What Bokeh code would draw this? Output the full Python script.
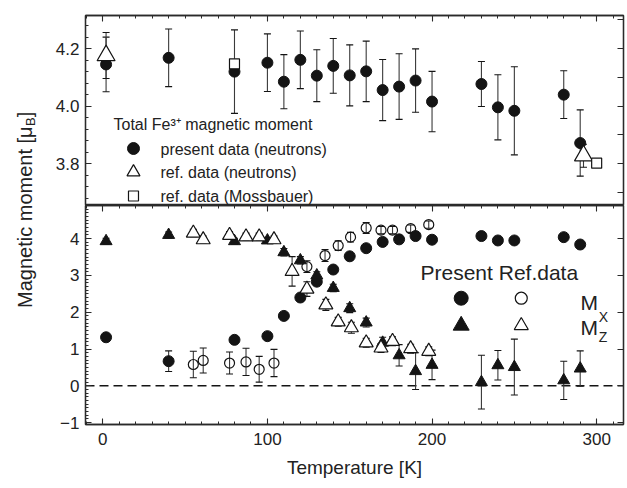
import numpy as np
from bokeh.plotting import figure
from bokeh.models import (Range1d, LinearAxis, SingleIntervalTicker, Whisker, TeeHead,
                          ColumnDataSource, Span, Label, PrintfTickFormatter)
from bokeh.layouts import row, column
from bokeh.embed import file_html
from bokeh.resources import INLINE

# ---------------- data ----------------
# Top panel: total Fe3+ magnetic moment
temp_total = [2, 40, 80, 100, 110, 120, 130, 140, 150, 160, 170, 180, 190, 200, 230, 240, 250, 280, 290]
moment_total = [4.145, 4.168, 4.12, 4.151, 4.085, 4.161, 4.106, 4.14, 4.107, 4.121, 4.056, 4.068,
                4.089, 4.016, 4.077, 3.996, 3.984, 4.04, 3.872]
err_total = [0.095, 0.1, 0.145, 0.1, 0.094, 0.1, 0.09, 0.095, 0.106, 0.105, 0.106, 0.114, 0.11,
             0.105, 0.078, 0.113, 0.153, 0.083, 0.115]
temp_ref_neut = [2, 292]
moment_ref_neut = [4.176, 3.828]
err_ref_neut = [0.08, 0.04]
temp_ref_moss = [80, 300]
moment_ref_moss = [4.147, 3.802]

# Bottom panel: components
temp_present = [2, 40, 80, 100, 110, 120, 130, 140, 150, 160, 170, 180, 190, 200, 230, 240, 250, 280, 290]
mx_present = [1.32, 0.67, 1.25, 1.35, 1.90, 2.40, 2.83, 3.16, 3.52, 3.74, 3.91, 3.98, 4.07, 3.97,
              4.07, 3.95, 3.95, 4.04, 3.84]
mx_present_err = [0.07, 0.28, 0.07, 0.07, 0.07, 0.07, 0.07, 0.07, 0.07, 0.07, 0.07, 0.07, 0.07, 0.07,
                  0.07, 0.07, 0.07, 0.07, 0.07]
mz_present = [3.93, 4.10, 3.93, 3.95, 3.63, 3.41, 3.00, 2.66, 2.11, 1.72, 1.17, 0.83, 0.40, 0.57,
              0.10, 0.56, 0.51, 0.15, 0.47]
mz_present_err = [0.08, 0.08, 0.08, 0.08, 0.1, 0.1, 0.1, 0.1, 0.12, 0.12, 0.15, 0.29, 0.5, 0.4,
                  0.73, 0.4, 0.76, 0.52, 0.48]

temp_ref_x = [55, 61, 77, 87, 95, 104, 124, 135, 143, 150.5, 160, 169, 176, 187, 198]
mx_ref = [0.58, 0.69, 0.62, 0.65, 0.45, 0.62, 3.24, 3.54, 3.81, 4.04, 4.29, 4.23, 4.23, 4.27, 4.38]
mx_ref_err = [0.36, 0.34, 0.30, 0.37, 0.35, 0.37, 0.16, 0.16, 0.13, 0.13, 0.15, 0.1, 0.1, 0.1, 0.1]
temp_ref_z = [55, 61, 77, 87, 95, 104, 115, 124, 135.5, 143, 151, 160, 169, 176, 187, 198]
mz_ref = [4.15, 3.97, 4.09, 4.05, 4.05, 3.97, 3.11, 2.63, 2.20, 1.74, 1.58, 1.17, 1.03, 1.21, 1.01, 0.94]
mz_ref_err = [0.1, 0.1, 0.1, 0.1, 0.1, 0.1, 0.4, 0.2, 0.15, 0.12, 0.15, 0.12, 0.12, 0.12, 0.12, 0.12]

x_ticks_interval = 100
top_y_labels_interval = 0.2
bottom_y_labels_interval = 1

# ---------------- style ----------------
FONT = "Liberation Sans"
INK = "#141414"
AX = "#2a2a2a"
TXT = "#222222"

X_START, X_END = -10.5, 316.3
TOP_Y = (3.655, 4.315)
BOT_Y = (-1.05, 4.9)
FRAME_W = 538
YLAB_W = 40
LEFT_B = 45
TOTAL_H = 486


def style_axis(ax, labels=True):
    ax.axis_line_color = AX
    ax.axis_line_width = 1.3
    ax.major_tick_line_color = AX
    ax.minor_tick_line_color = AX
    ax.major_tick_line_width = 1.1
    ax.minor_tick_line_width = 1
    ax.major_tick_in = 6
    ax.major_tick_out = 0
    ax.minor_tick_in = 3
    ax.minor_tick_out = 0
    ax.major_label_text_font = FONT
    ax.major_label_text_font_size = "17px"
    ax.major_label_text_color = TXT
    ax.major_label_standoff = 6
    if not labels:
        ax.major_label_text_color = None
        ax.major_label_text_font_size = "0px"
        ax.major_label_standoff = 0


def base_fig(frame_h, y_rng, top_b, bottom_b):
    p = figure(frame_width=FRAME_W, frame_height=frame_h, x_range=x_rng, y_range=Range1d(*y_rng),
               output_backend="svg", toolbar_location=None, x_axis_location=None,
               y_axis_location=None, min_border_left=LEFT_B, min_border_right=2,
               min_border_top=top_b, min_border_bottom=bottom_b)
    p.grid.visible = False
    p.outline_line_color = AX
    p.outline_line_width = 1.3
    p.background_fill_color = "white"
    p.border_fill_color = "white"
    return p


def whiskers(p, xs, ys, errs, **kw):
    src = ColumnDataSource(dict(x=xs, lo=[y - e for y, e in zip(ys, errs)],
                                hi=[y + e for y, e in zip(ys, errs)]))
    w = Whisker(source=src, base="x", upper="hi", lower="lo", line_color="#3a3a3a", line_width=1.1,
                upper_head=TeeHead(size=7, line_color=INK, line_width=1.1),
                lower_head=TeeHead(size=7, line_color=INK, line_width=1.1), **kw)
    p.add_layout(w)


x_rng = Range1d(X_START, X_END)

# ---------- top panel ----------
top = base_fig(190, TOP_Y, 15, 0)
ax = LinearAxis(ticker=SingleIntervalTicker(interval=top_y_labels_interval, num_minor_ticks=5),
                formatter=PrintfTickFormatter(format="%.1f"))
style_axis(ax)
top.add_layout(ax, "left")
ax = LinearAxis(ticker=SingleIntervalTicker(interval=0.1, num_minor_ticks=0))
style_axis(ax, labels=False)
top.add_layout(ax, "right")
ax = LinearAxis(ticker=SingleIntervalTicker(interval=x_ticks_interval, num_minor_ticks=10))
style_axis(ax, labels=False)
top.add_layout(ax, "above")

whiskers(top, temp_total, moment_total, err_total)
whiskers(top, temp_ref_neut, moment_ref_neut, err_ref_neut)
top.scatter(temp_total, moment_total, marker="circle", size=11, fill_color=INK, line_color=INK)
top.scatter(temp_ref_neut, moment_ref_neut, marker="triangle", size=18, fill_color="white",
            line_color=INK, line_width=1.2)
top.scatter(temp_ref_moss, moment_ref_moss, marker="square", size=10, fill_color="white",
            line_color=INK, line_width=1.2)

# ---------- bottom panel ----------
bot = base_fig(219, BOT_Y, 0, TOTAL_H - 205 - 219)
ax = LinearAxis(ticker=SingleIntervalTicker(interval=bottom_y_labels_interval, num_minor_ticks=10))
style_axis(ax)
bot.add_layout(ax, "left")
ax = LinearAxis(ticker=SingleIntervalTicker(interval=1, num_minor_ticks=0))
style_axis(ax, labels=False)
bot.add_layout(ax, "right")
ax = LinearAxis(ticker=SingleIntervalTicker(interval=x_ticks_interval, num_minor_ticks=10))
style_axis(ax, labels=False)
bot.add_layout(ax, "above")
ax = LinearAxis(ticker=SingleIntervalTicker(interval=x_ticks_interval, num_minor_ticks=10),
                axis_label="Temperature [K]")
style_axis(ax)
ax.major_label_standoff = 8
ax.axis_label_text_font = FONT
ax.axis_label_text_font_size = "19px"
ax.axis_label_text_font_style = "normal"
ax.axis_label_text_color = TXT
ax.axis_label_standoff = 9
bot.add_layout(ax, "below")

bot.add_layout(Span(location=0, dimension="width", line_color=INK, line_width=1.5,
                    line_dash="9 5", level="underlay"))

whiskers(bot, temp_present, mx_present, mx_present_err)
whiskers(bot, temp_present, mz_present, mz_present_err)
whiskers(bot, temp_ref_x, mx_ref, mx_ref_err)
whiskers(bot, temp_ref_z, mz_ref, mz_ref_err)
bot.scatter(temp_present, mx_present, marker="circle", size=11, fill_color=INK, line_color=INK)
bot.scatter(temp_present, mz_present, marker="triangle", size=12, fill_color=INK, line_color=INK)
bot.scatter(temp_ref_x, mx_ref, marker="circle", size=10, fill_alpha=0, line_color=INK,
            line_width=1.2)
bot.scatter(temp_ref_z, mz_ref, marker="triangle", size=14, fill_color="white", line_color=INK,
            line_width=1.2)

# ---------- legends (layout positions, not data) ----------
def lab(p, x, y, text, size, **kw):
    p.add_layout(Label(x=x, y=y, text=text, text_font=FONT, text_font_size=size,
                       text_color=TXT, text_baseline="middle", **kw))

lab(top, 6.5, 3.936, "Total Fe³⁺ magnetic moment", "16px")
top.scatter([18.65], [3.853], marker="circle", size=12, fill_color=INK, line_color=INK)
top.scatter([18.65], [3.771], marker="triangle", size=13, fill_color="white", line_color=INK,
            line_width=1.2)
top.scatter([18.65], [3.688], marker="square", size=10, fill_color="white", line_color=INK,
            line_width=1.2)
lab(top, 35.05, 3.848, "present data (neutrons)", "16px")
lab(top, 35.05, 3.768, "ref. data (neutrons)", "16px")
lab(top, 35.05, 3.688, "ref. data (Mossbauer)", "16px")

lab(bot, 193, 3.093, "Present Ref.data", "21px")
bot.scatter([217.7], [2.381], marker="circle", size=14, fill_color=INK, line_color=INK)
bot.scatter([254.2], [2.381], marker="circle", size=12, fill_alpha=0, line_color=INK, line_width=1.2)
bot.scatter([217.7], [1.639], marker="triangle", size=16, fill_color=INK, line_color=INK)
bot.scatter([254.2], [1.639], marker="triangle", size=14, fill_color="white", line_color=INK,
            line_width=1.2)
lab(bot, 290.2, 2.264, "M", "21px")
lab(bot, 301.2, 1.865, "X", "14px")
lab(bot, 290.2, 1.593, "M", "21px")
lab(bot, 301.2, 1.321, "Z", "14px")

# ---------- shared y-axis title ----------
ylab = figure(width=YLAB_W, height=TOTAL_H, x_range=Range1d(0, YLAB_W), y_range=Range1d(0, TOTAL_H),
              output_backend="svg", toolbar_location=None, x_axis_location=None,
              y_axis_location=None, min_border=0, outline_line_color=None)
ylab.grid.visible = False
ylab.add_layout(Label(x=24, y=360.1, text="Magnetic moment [μ", angle=np.pi / 2,
                      text_align="right", text_baseline="middle", text_font=FONT,
                      text_font_size="20px", text_color=TXT))
ylab.add_layout(Label(x=29.5, y=360.6, text="B", angle=np.pi / 2, text_align="left",
                      text_baseline="middle", text_font=FONT, text_font_size="13px",
                      text_color=TXT))
ylab.add_layout(Label(x=24, y=369.3, text="]", angle=np.pi / 2, text_align="left",
                      text_baseline="middle", text_font=FONT, text_font_size="20px",
                      text_color=TXT))

layout = row(ylab, column(top, bot))
open("out.html", "w").write(file_html(layout, INLINE))
